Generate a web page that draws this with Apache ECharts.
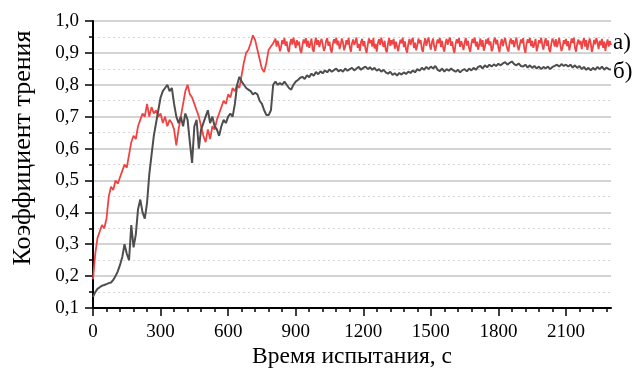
<!DOCTYPE html>
<html>
<head>
<meta charset="utf-8">
<script src="https://cdn.jsdelivr.net/npm/echarts@6/dist/echarts.min.js"></script>
<style>html,body{margin:0;padding:0;background:#fff}#c{width:633px;height:370px}</style>
</head>
<body>
<div id="c"></div>
<script>
// sampling of the recorded curves, seconds
const STEP_S = 10;           // black curve and the red run-in part
const RED_PLATEAU_START_S = 805;
const RED_PLATEAU_STEP_S = 5;

const xMajorTicks = [0, 300, 600, 900, 1200, 1500, 1800, 2100];
const xMinorTicks = [60,120,180,240,360,420,480,540,660,720,780,840,960,1020,1080,1140,1260,1320,1380,1440,1560,1620,1680,1740,1860,1920,1980,2040,2160,2220,2280];

const yTitle = 'Коэффициент трения';
const xTitle = 'Время испытания, с';
const seriesNames = ['а)', 'б)'];

// curve а) (red), run-in part, t = 0..800 s
const curveA_runIn = [
  0.19,0.27,0.32,0.34,0.36,0.35,0.38,0.45,0.48,0.47,
  0.50,0.49,0.51,0.53,0.55,0.54,0.58,0.62,0.64,0.63,
  0.67,0.69,0.71,0.70,0.74,0.70,0.73,0.71,0.72,0.70,
  0.71,0.68,0.70,0.67,0.69,0.68,0.66,0.61,0.66,0.70,
  0.74,0.78,0.80,0.77,0.76,0.74,0.72,0.70,0.67,0.64,
  0.62,0.66,0.63,0.67,0.66,0.69,0.71,0.73,0.75,0.74,
  0.77,0.76,0.79,0.78,0.80,0.79,0.83,0.87,0.90,0.91,
  0.93,0.955,0.94,0.91,0.88,0.85,0.84,0.87,0.91,0.92,
  0.93
];
// curve а) (red), steady part, t = 805..2300 s
const curveA_steady = [
  0.93,0.945,0.92,0.938,0.925,0.905,0.918,0.94,0.928,0.947,
  0.922,0.936,0.91,0.902,0.93,0.944,0.926,0.948,0.932,0.915,
  0.94,0.924,0.935,0.908,0.9,0.925,0.942,0.93,0.946,0.92,
  0.938,0.916,0.928,0.945,0.912,0.903,0.932,0.948,0.925,0.94,
  0.918,0.934,0.944,0.927,0.906,0.915,0.938,0.946,0.922,0.935,
  0.91,0.901,0.928,0.943,0.93,0.948,0.924,0.938,0.912,0.926,
  0.945,0.932,0.908,0.92,0.94,0.926,0.947,0.918,0.903,0.93,
  0.942,0.925,0.936,0.948,0.916,0.928,0.906,0.934,0.944,0.921,
  0.937,0.912,0.9,0.926,0.945,0.93,0.94,0.92,0.946,0.914,
  0.928,0.904,0.932,0.943,0.925,0.948,0.933,0.918,0.938,0.909,
  0.902,0.93,0.946,0.922,0.94,0.927,0.944,0.913,0.935,0.92,
  0.905,0.926,0.941,0.93,0.948,0.918,0.936,0.91,0.901,0.928,
  0.944,0.925,0.939,0.947,0.915,0.932,0.908,0.924,0.945,0.93,
  0.94,0.912,0.903,0.93,0.946,0.922,0.937,0.948,0.926,0.91,
  0.934,0.945,0.92,0.906,0.927,0.942,0.93,0.947,0.918,0.938,
  0.915,0.904,0.931,0.944,0.925,0.94,0.948,0.922,0.936,0.911,
  0.9,0.928,0.943,0.93,0.946,0.919,0.937,0.925,0.909,0.932,
  0.947,0.923,0.938,0.914,0.903,0.929,0.944,0.931,0.948,0.92,
  0.935,0.91,0.926,0.945,0.92,0.94,0.907,0.918,0.942,0.929,
  0.946,0.924,0.936,0.905,0.914,0.939,0.948,0.927,0.941,0.916,
  0.902,0.93,0.944,0.921,0.937,0.947,0.926,0.912,0.904,0.933,
  0.945,0.928,0.94,0.918,0.935,0.948,0.922,0.908,0.925,0.942,
  0.93,0.946,0.913,0.9,0.928,0.943,0.932,0.947,0.921,0.938,
  0.916,0.927,0.944,0.905,0.92,0.94,0.93,0.948,0.924,0.91,
  0.934,0.946,0.922,0.939,0.911,0.902,0.929,0.945,0.936,0.92,
  0.943,0.918,0.932,0.947,0.925,0.906,0.917,0.94,0.928,0.944,
  0.921,0.937,0.908,0.926,0.945,0.931,0.948,0.915,0.904,0.93,
  0.942,0.926,0.938,0.912,0.935,0.946,0.92,0.94,0.909,0.927,
  0.945,0.93,0.903,0.918,0.941,0.927,0.947,0.933,0.912,0.938,
  0.924,0.944,0.916,0.935,0.906,0.928,0.942,0.92,0.937,0.925
];

// curve б) (dark grey), t = 0..2300 s
const curveB = [
  0.135,0.15,0.16,0.165,0.17,0.172,0.175,0.178,0.18,0.188,
  0.20,0.215,0.235,0.26,0.30,0.27,0.25,0.36,0.29,0.33,
  0.41,0.44,0.40,0.38,0.43,0.52,0.58,0.64,0.68,0.72,
  0.76,0.78,0.79,0.80,0.78,0.79,0.74,0.70,0.68,0.70,
  0.67,0.71,0.69,0.62,0.555,0.67,0.69,0.60,0.66,0.68,
  0.70,0.72,0.68,0.70,0.67,0.66,0.64,0.67,0.69,0.68,
  0.70,0.71,0.70,0.74,0.80,0.825,0.81,0.80,0.79,0.785,
  0.78,0.77,0.775,0.77,0.75,0.74,0.72,0.705,0.705,0.72,
  0.80,0.81,0.80,0.805,0.80,0.81,0.80,0.79,0.785,0.80,
  0.81,
  0.815,0.822,0.825,0.818,0.83,0.824,0.835,0.828,0.84,0.833,
  0.842,0.836,0.845,0.839,0.848,0.841,0.846,0.851,0.842,0.847,
  0.841,0.851,0.844,0.849,0.853,0.845,0.851,0.856,0.847,0.853,
  0.857,0.849,0.855,0.847,0.853,0.844,0.849,0.841,0.847,0.839,
  0.835,0.841,0.831,0.836,0.829,0.837,0.832,0.839,0.834,0.841,
  0.837,0.845,0.839,0.849,0.844,0.853,0.847,0.856,0.849,0.857,
  0.851,0.859,0.847,0.843,0.851,0.841,0.849,0.844,0.851,0.845,
  0.841,0.847,0.839,0.846,0.849,0.842,0.851,0.845,0.853,0.847,
  0.856,0.859,0.851,0.861,0.855,0.863,0.857,0.864,0.859,0.866,
  0.861,0.867,0.871,0.863,0.869,0.873,0.865,0.861,0.867,0.859,
  0.857,0.863,0.854,0.861,0.853,0.859,0.851,0.857,0.849,0.856,
  0.851,0.857,0.849,0.856,0.859,0.863,0.857,0.865,0.859,0.863,
  0.857,0.863,0.854,0.861,0.853,0.859,0.849,0.856,0.847,0.853,
  0.845,0.853,0.847,0.856,0.849,0.857,0.847,0.854,0.849,0.848
];

const redData = curveA_runIn.map((v, i) => [i * STEP_S, v])
  .concat(curveA_steady.map((v, i) => [RED_PLATEAU_START_S + i * RED_PLATEAU_STEP_S, v]));
const blackData = curveB.map((v, i) => [i * STEP_S, v]);
const FONT = 'Liberation Serif';

const chart = echarts.init(document.getElementById('c'), null, {renderer: 'canvas'});
chart.setOption({
  animation: false,
  backgroundColor: '#fff',
  grid: {left: 93, right: 22, top: 21, bottom: 62},
  xAxis: [{
    type: 'value', min: 0, max: 2300,
    axisLine: {show: true, lineStyle: {color: '#000', width: 2}},
    axisTick: {show: true, inside: false, length: 8, customValues: xMajorTicks, lineStyle: {color: '#000', width: 1.5}},
    axisLabel: {customValues: xMajorTicks, margin: 15, color: '#000', fontFamily: FONT, fontSize: 19,
      formatter: v => String(v)},
    splitLine: {show: false}
  }, {
    type: 'value', min: 0, max: 2300, position: 'bottom',
    axisLine: {show: false},
    axisTick: {show: true, inside: false, length: 4, customValues: xMinorTicks, lineStyle: {color: '#000', width: 1.5}},
    axisLabel: {show: false},
    splitLine: {show: false}
  }],
  yAxis: {
    type: 'value', min: 0.1, max: 1.0, interval: 0.1,
    axisLine: {show: true, lineStyle: {color: '#000', width: 2}},
    axisTick: {show: true, inside: false, length: 8, lineStyle: {color: '#000', width: 1.5}},
    minorTick: {show: true, splitNumber: 2, length: 4, lineStyle: {color: '#000', width: 1.5}},
    axisLabel: {margin: 14, color: '#000', fontFamily: FONT, fontSize: 19,
      formatter: v => v.toFixed(1).replace('.', ',')},
    splitLine: {show: true, lineStyle: {color: '#c4c4c4', width: 1.5}},
    minorSplitLine: {show: true, lineStyle: {color: '#d6d6d6', width: 1, type: [2, 3]}}
  },
  series: [{
    name: seriesNames[0], type: 'line', showSymbol: false, symbol: 'none',
    data: redData, lineStyle: {color: '#f04444', width: 1.8}, z: 3
  }, {
    name: seriesNames[1], type: 'line', showSymbol: false, symbol: 'none',
    data: blackData, lineStyle: {color: '#4e4e4e', width: 2}, z: 4
  }],
  graphic: [
    {type: 'text', rotation: Math.PI / 2, x: 23, y: 148,
      style: {text: yTitle, font: '26px "' + FONT + '"', fill: '#000', align: 'center', verticalAlign: 'middle'}},
    {type: 'text', x: 352, y: 357,
      style: {text: xTitle, font: '23.5px "' + FONT + '"', fill: '#000', align: 'center', verticalAlign: 'middle'}},
    {type: 'text', x: 613, y: 43,
      style: {text: seriesNames[0], font: '23px "' + FONT + '"', fill: '#000', align: 'left', verticalAlign: 'middle'}},
    {type: 'text', x: 613, y: 72,
      style: {text: seriesNames[1], font: '23px "' + FONT + '"', fill: '#000', align: 'left', verticalAlign: 'middle'}}
  ]
});
</script>
</body>
</html>
